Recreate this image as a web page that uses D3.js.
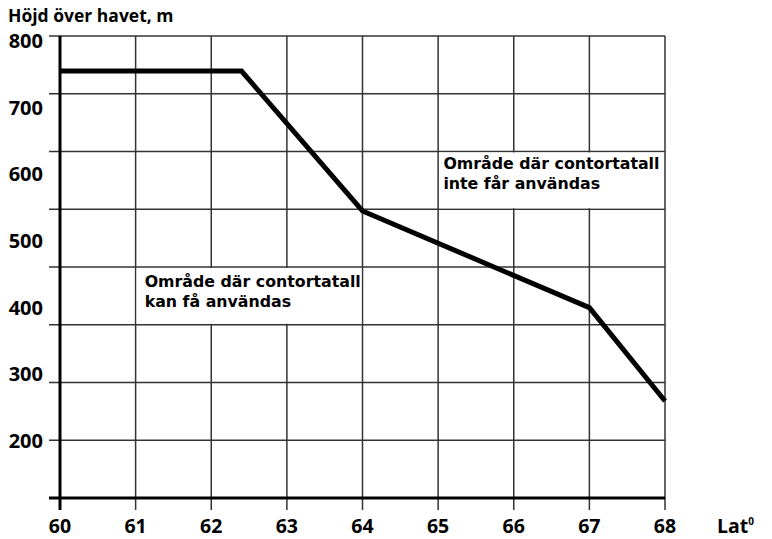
<!DOCTYPE html>
<html>
<head>
<meta charset="utf-8">
<script src="https://cdn.jsdelivr.net/npm/d3@7"></script>
<style>
  body { margin: 0; background: #fff; }
  svg text { font-family: 'Open Sans', Lato, sans-serif; font-weight: bold; fill: #000; }
  svg text.note { font-family: 'DejaVu Sans', 'Open Sans', sans-serif; }
</style>
</head>
<body>
<svg id="chart" width="772" height="539"></svg>
<script>
// latitude (deg) and altitude limit (m)
const lat = [60, 62.4, 64, 67, 68]
const alt = [755, 755, 545, 400, 260]

const xTicks = [60, 61, 62, 63, 64, 65, 66, 67, 68]
const yTicks = [800, 700, 600, 500, 400, 300, 200]
const gridRows = [0, 1, 2, 3, 4, 5, 6, 7, 8]

const notes = [
  {lines: ['Område där contortatall', 'inte får användas'], lat: 65.07, alt: 608, from: 65, to: 68, rows: [2, 3]},
  {lines: ['Område där contortatall', 'kan få användas'], lat: 61.12, alt: 431, from: 61, to: 64, rows: [4, 5]}
]

const svg = d3.select('#chart')

let x = d3.scaleLinear().domain([60, 68]).range([60, 665])
let y = d3.scaleLinear().domain([200, 800]).range([441, 41])
// the drawn grid is 8 equal rows, not tied to the altitude labels
let row = d3.scaleLinear().domain([0, 8]).range([36, 498])

svg.append('text')
  .attr('x', 8).attr('y', 22)
  .attr('font-size', 17.5)
  .text('Höjd över havet, m')

// grid
let grid = svg.append('g').attr('stroke', '#333').attr('stroke-width', 1.5)
grid.selectAll('line.h')
  .data(gridRows.slice(0, -1))
  .join('line')
    .attr('class', 'h')
    .attr('x1', 49).attr('x2', x(68))
    .attr('y1', d => row(d)).attr('y2', d => row(d))
grid.selectAll('line.v')
  .data(xTicks.slice(1))
  .join('line')
    .attr('class', 'v')
    .attr('x1', d => x(d)).attr('x2', d => x(d))
    .attr('y1', row(0)).attr('y2', row(8) + 12)

// white boxes behind the notes
svg.append('g')
  .selectAll('rect')
  .data(notes)
  .join('rect')
    .attr('fill', '#fff')
    .attr('x', d => x(d.from) + 1)
    .attr('width', d => x(d.to) - x(d.from) - 2)
    .attr('y', d => row(d.rows[0]) + 1)
    .attr('height', d => row(d.rows[1]) - row(d.rows[0]) - 2)

// axes
svg.append('line')
  .attr('stroke', '#000').attr('stroke-width', 3)
  .attr('x1', x(60)).attr('x2', x(60))
  .attr('y1', row(0)).attr('y2', row(8) + 12)
svg.append('line')
  .attr('stroke', '#000').attr('stroke-width', 3)
  .attr('x1', 49).attr('x2', x(68))
  .attr('y1', row(8)).attr('y2', row(8))

svg.append('g')
  .attr('font-size', 19.5)
  .attr('text-anchor', 'middle')
  .selectAll('text')
  .data(xTicks)
  .join('text')
    .attr('x', d => x(d))
    .attr('y', 533)
    .text(d => d)

svg.append('g')
  .attr('font-size', 20)
  .attr('text-anchor', 'end')
  .selectAll('text')
  .data(yTicks)
  .join('text')
    .attr('x', 43)
    .attr('y', d => y(d))
    .attr('dy', '0.35em')
    .text(d => d)

let latLabel = svg.append('text')
  .attr('x', 717).attr('y', 533)
  .attr('font-size', 19.5)
latLabel.append('tspan').text('Lat')
latLabel.append('tspan').attr('font-size', 10).attr('dy', -8).text('0')

// notes, one text per line
svg.append('g')
  .attr('font-size', 15.8)
  .selectAll('text')
  .data(notes.flatMap(d => d.lines.map((t, i) => ({t, i, lat: d.lat, alt: d.alt}))))
  .join('text')
    .attr('class', 'note')
    .attr('x', d => x(d.lat))
    .attr('y', d => y(d.alt))
    .attr('dy', d => d.i * 20)
    .text(d => d.t)

// limit line
let line = d3.line()
  .x((d, i) => x(lat[i]))
  .y(d => y(d))

svg.append('path')
  .datum(alt)
  .attr('fill', 'none')
  .attr('stroke', '#000')
  .attr('stroke-width', 5)
  .attr('d', line)
</script>
</body>
</html>
